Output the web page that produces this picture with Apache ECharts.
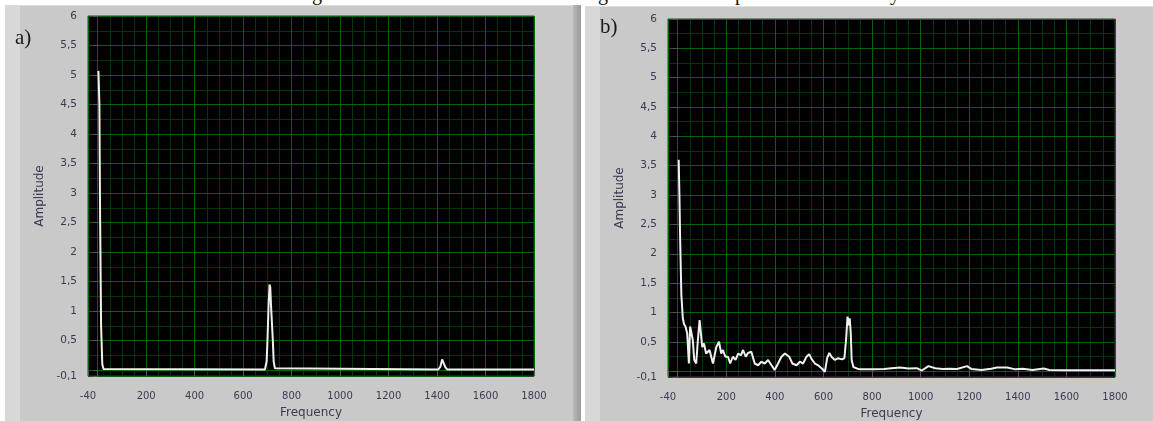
<!DOCTYPE html>
<html><head><meta charset="utf-8">
<script src="https://cdn.jsdelivr.net/npm/echarts@6/dist/echarts.min.js"></script>
<style>
html,body{margin:0;padding:0;background:#fff;width:1153px;height:421px;overflow:hidden;position:relative}
.p{position:absolute}
.cut{position:absolute;font:20px "Liberation Serif",serif;line-height:20px;color:#111;top:-17px}
#chart{position:absolute;left:0;top:0;width:1153px;height:421px}
</style></head><body>
<div class="p" style="left:5px;top:5px;width:568px;bottom:0;background:#c9c9c9;border-top:1px solid #dedede"></div>
<div class="p" style="left:5px;top:6px;width:15px;bottom:0;background:#d8d8d8"></div>
<div class="p" style="left:573px;top:5px;width:8px;bottom:0;background:linear-gradient(to right,#b8b8b8,#9a9a9a)"></div>
<div class="p" style="left:585px;top:6px;right:0;bottom:0;background:#c9c9c9;border-top:1px solid #dedede"></div>
<div class="p" style="left:585px;top:7px;width:15px;bottom:0;background:#d8d8d8"></div>
<span class="cut" style="left:312px">g</span>
<span class="cut" style="left:598px">g</span>
<span class="cut" style="left:735px">p</span>
<span class="cut" style="left:890px">y</span>
<div id="chart"></div>
<script>
// ---- data: panel a) ----
const freqA = [3, 5, 7, 10, 14, 19, 24, 30, 690, 697, 701, 705, 709, 712, 715, 718, 722, 726, 731, 737, 1405, 1414, 1421, 1427, 1434, 1442, 1800];
const ampA  = [5.07, 5.05, 4.5, 2.55, 0.75, 0.1, 0.02, 0.01, 0.01, 0.15, 0.58, 1.1, 1.45, 1.4, 1.1, 1.12, 0.55, 0.15, 0.03, 0.01, 0.01, 0.06, 0.18, 0.17, 0.05, 0.01, 0.01];
// ---- data: panel b) ----
const freqB = [4, 7, 10, 15, 21, 26, 32, 39, 46, 51, 57, 62, 68, 76, 83, 90, 97, 101, 108, 117, 131, 145, 159, 170, 179, 186, 196, 207, 216, 227, 238, 249, 260, 269, 280, 289, 303, 317, 331, 344, 358, 372, 386, 399, 413, 427, 441, 448, 459, 472, 489, 503, 516, 530, 541, 552, 565, 578, 592, 606, 615, 624, 633, 647, 661, 675, 686, 693, 699, 704, 708, 712, 716, 723, 737, 750, 778, 800, 850, 880, 915, 950, 984, 1005, 1032, 1060, 1090, 1120, 1150, 1191, 1210, 1250, 1290, 1314, 1356, 1390, 1420, 1460, 1507, 1530, 1600, 1700, 1800];
const ampB  = [3.6, 3.0, 2.25, 1.3, 0.9, 0.8, 0.76, 0.64, 0.13, 0.76, 0.64, 0.53, 0.19, 0.13, 0.53, 0.87, 0.87, 0.41, 0.47, 0.30, 0.36, 0.13, 0.41, 0.5, 0.30, 0.36, 0.245, 0.245, 0.13, 0.245, 0.19, 0.30, 0.27, 0.36, 0.245, 0.31, 0.33, 0.13, 0.10, 0.16, 0.13, 0.19, 0.10, 0.02, 0.13, 0.245, 0.30, 0.33, 0.245, 0.13, 0.10, 0.16, 0.13, 0.245, 0.29, 0.2, 0.13, 0.10, 0.05, -0.01, 0.22, 0.31, 0.245, 0.19, 0.22, 0.2, 0.22, 0.53, 0.93, 0.78, 0.9, 0.67, 0.19, 0.07, 0.046, 0.03, 0.03, 0.03, 0.035, 0.05, 0.06, 0.045, 0.05, 0.01, 0.085, 0.05, 0.035, 0.04, 0.035, 0.085, 0.035, 0.02, 0.04, 0.063, 0.063, 0.03, 0.04, 0.02, 0.045, 0.02, 0.015, 0.015, 0.015];
// ---- axes ----
const xLabelValues = [-40, 200, 400, 600, 800, 1000, 1200, 1400, 1600, 1800];
const xMajorTicks  = [-40, 0, 200, 400, 600, 800, 1000, 1200, 1400, 1600, 1800];
const xMinorLines  = [50, 100, 150, 250, 300, 350, 450, 500, 550, 650, 700, 750, 850, 900, 950, 1050, 1100, 1150, 1250, 1300, 1350, 1450, 1500, 1550, 1650, 1700, 1750];
const yLabelValues = [-0.1, 0.5, 1, 1.5, 2, 2.5, 3, 3.5, 4, 4.5, 5, 5.5, 6];
const yMajorTicks  = [-0.1, 0, 0.5, 1, 1.5, 2, 2.5, 3, 3.5, 4, 4.5, 5, 5.5, 6];
const yMinorLines  = [0.25, 0.75, 1.25, 1.75, 2.25, 2.75, 3.25, 3.75, 4.25, 4.75, 5.25, 5.75];

const txtColor = '#3a3a52';
const font = 'DejaVu Sans';
const majorColor = '#0b600b';
const minorColor = '#063506';

function pairs(f, a) { return f.map((v, i) => [v, a[i]]); }

function xAxes(gi) {
  return [{
    gridIndex: gi, type: 'value', min: -40, max: 1800, offset: 2, z: 2,
    axisLine: {show: false},
    axisTick: {show: true, length: 6, customValues: xMajorTicks, lineStyle: {color: '#555'}},
    axisLabel: {customValues: xLabelValues, margin: 13, fontSize: 10, fontFamily: font, color: txtColor,
      formatter: v => String(v)},
    splitLine: {show: true, lineStyle: {color: majorColor, width: 1}},
    name: 'Frequency', nameLocation: 'middle', nameGap: 29,
    nameTextStyle: {fontSize: 12, fontFamily: font, color: txtColor}
  }, {
    gridIndex: gi, type: 'value', min: -40, max: 1800, z: 1,
    axisLine: {show: false},
    axisTick: {show: false, customValues: xMinorLines},
    axisLabel: {show: false},
    splitLine: {show: true, lineStyle: {color: minorColor, width: 1}}
  }];
}
function yAxes(gi) {
  return [{
    gridIndex: gi, type: 'value', min: -0.1, max: 6, offset: 4, z: 2,
    axisLine: {show: false},
    axisTick: {show: true, length: 5, customValues: yMajorTicks, lineStyle: {color: '#555'}},
    axisLabel: {customValues: yLabelValues, margin: 7, fontSize: 10.5, fontFamily: font, color: txtColor,
      formatter: v => String(v).replace('.', ',')},
    splitLine: {show: true, lineStyle: {color: majorColor, width: 1}},
    name: 'Amplitude', nameLocation: 'middle', nameGap: 38,
    nameTextStyle: {fontSize: 12, fontFamily: font, color: txtColor}
  }, {
    gridIndex: gi, type: 'value', min: -0.1, max: 6, z: 1,
    axisLine: {show: false},
    axisTick: {show: false, customValues: yMinorLines},
    axisLabel: {show: false},
    splitLine: {show: true, lineStyle: {color: minorColor, width: 1}}
  }];
}

const chart = echarts.init(document.getElementById('chart'), null, {renderer: 'canvas'});
chart.setOption({
  animation: false,
  backgroundColor: 'transparent',
  grid: [
    {left: 88, top: 16, width: 446, height: 360, containLabel: false, outerBoundsMode: 'none',
     show: true, backgroundColor: '#000', borderColor: '#3a3a3a', borderWidth: 1},
    {left: 668, top: 19, width: 447, height: 358, containLabel: false, outerBoundsMode: 'none',
     show: true, backgroundColor: '#000', borderColor: '#3a3a3a', borderWidth: 1}
  ],
  xAxis: [...xAxes(0), ...xAxes(1)],
  yAxis: [...yAxes(0), ...yAxes(1)],
  graphic: [
    {type: 'text', left: 15, top: 28, style: {text: 'a)', font: '21px "Liberation Serif", serif', fill: '#1a1a1a'}},
    {type: 'text', left: 600, top: 17, style: {text: 'b)', font: '21px "Liberation Serif", serif', fill: '#1a1a1a'}}
  ],
  series: [
    {type: 'line', xAxisIndex: 0, yAxisIndex: 0, data: pairs(freqA, ampA), showSymbol: false, z: 5,
     lineStyle: {color: '#f0f0f0', width: 2}},
    {type: 'line', xAxisIndex: 2, yAxisIndex: 2, data: pairs(freqB, ampB), showSymbol: false, z: 5,
     lineStyle: {color: '#f0f0f0', width: 2}}
  ]
});
</script>
</body></html>
